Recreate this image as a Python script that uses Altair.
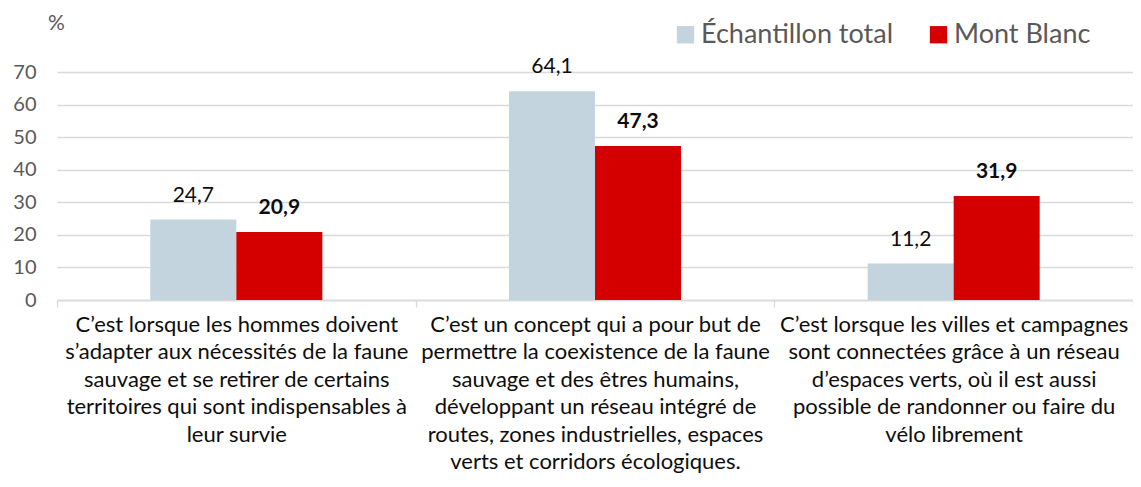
import altair as alt
import pandas as pd

categories = [
    "C’est lorsque les hommes doivent|s’adapter aux nécessités de la faune|sauvage et se retirer de certains|territoires qui sont indispensables à|leur survie",
    "C’est un concept qui a pour but de|permettre la coexistence de la faune|sauvage et des êtres humains,|développant un réseau intégré de|routes, zones industrielles, espaces|verts et corridors écologiques.",
    "C’est lorsque les villes et campagnes|sont connectées grâce à un réseau|d’espaces verts, où il est aussi|possible de randonner ou faire du|vélo librement",
]
series = ["Échantillon total", "Mont Blanc"]
total_values = [24.7, 64.1, 11.2]
mont_blanc_values = [20.9, 47.3, 31.9]
y_ticks = [0, 10, 20, 30, 40, 50, 60, 70]
colors = ["#c3d4de", "#d40000"]
# empty slots either side of the two bars of each group (spacing only)
offset_domain = ["_gap_left"] + series + ["_gap_right"]

rows = []
for i, c in enumerate(categories):
    rows.append({"cat": c, "serie": series[0], "value": total_values[i],
                 "label": f"{total_values[i]:.1f}".replace(".", ",")})
    rows.append({"cat": c, "serie": series[1], "value": mont_blanc_values[i],
                 "label": f"{mont_blanc_values[i]:.1f}".replace(".", ",")})
df = pd.DataFrame(rows)

FONT = "Lato"

x = alt.X("cat:N", sort=categories, title=None,
          scale=alt.Scale(paddingInner=0, paddingOuter=0),
          axis=alt.Axis(labelExpr="split(datum.label, '|')", labelAngle=0,
                        labelFontSize=22, labelLineHeight=27.5, labelColor="#0d0d0d",
                        labelFont=FONT, labelLimit=0, labelPadding=7,
                        tickBand="extent", tickSize=7, tickColor="#d9d9d9",
                        tickWidth=1.3, domainColor="#d9d9d9", domainWidth=1.3,
                        grid=False, labelBaseline="top"))
xoff = alt.XOffset("serie:N",
                   scale=alt.Scale(domain=offset_domain, paddingInner=0,
                                   paddingOuter=0.085))
y = alt.Y("value:Q", title="%",
          scale=alt.Scale(domain=[0, 70], nice=False),
          axis=alt.Axis(values=y_ticks, format="d", tickCount=8,
                        domain=False, ticks=False, grid=True, gridColor="#d9d9d9",
                        gridWidth=1.3, labelFontSize=20, labelColor="#595959",
                        labelFont=FONT, labelPadding=21, labelOverlap=False,
                        titleAngle=0, titleX=-1, titleY=-49, titleAlign="center",
                        titleBaseline="middle", titleFontSize=21,
                        titleFontWeight="normal", titleColor="#595959", titleFont=FONT))

bars = alt.Chart(df).mark_bar().encode(
    x=x, xOffset=xoff, y=y,
    color=alt.Color("serie:N", sort=series,
                    scale=alt.Scale(domain=series, range=colors),
                    legend=alt.Legend(title=None, orient="none", direction="horizontal",
                                      legendX=615, legendY=-51, symbolType="square",
                                      symbolSize=300, symbolStrokeWidth=0,
                                      labelFontSize=27, labelColor="#595959",
                                      labelFont=FONT, labelOffset=2, columnPadding=31,
                                      padding=0, labelLimit=0)),
)

lab_total = alt.Chart(df).transform_filter(
    alt.datum.serie == series[0]
).mark_text(baseline="alphabetic", dy=-18, fontSize=21, font=FONT, color="#0d0d0d").encode(
    x=x, xOffset=xoff, y=y, text="label:N")

lab_mb = alt.Chart(df).transform_filter(
    alt.datum.serie == series[1]
).mark_text(baseline="alphabetic", dy=-18, fontSize=21, font=FONT, fontWeight="bold",
            color="#0d0d0d").encode(
    x=x, xOffset=xoff, y=y, text="label:N")

chart = alt.layer(bars, lab_total, lab_mb).properties(
    width=1076, height=228,
    autosize=alt.AutoSizeParams(type="none"),
    padding={"left": 49, "top": 64, "right": 0, "bottom": 175},
).configure_view(stroke=None)

chart.save("out.html", embed_options={"renderer": "svg", "actions": False})
